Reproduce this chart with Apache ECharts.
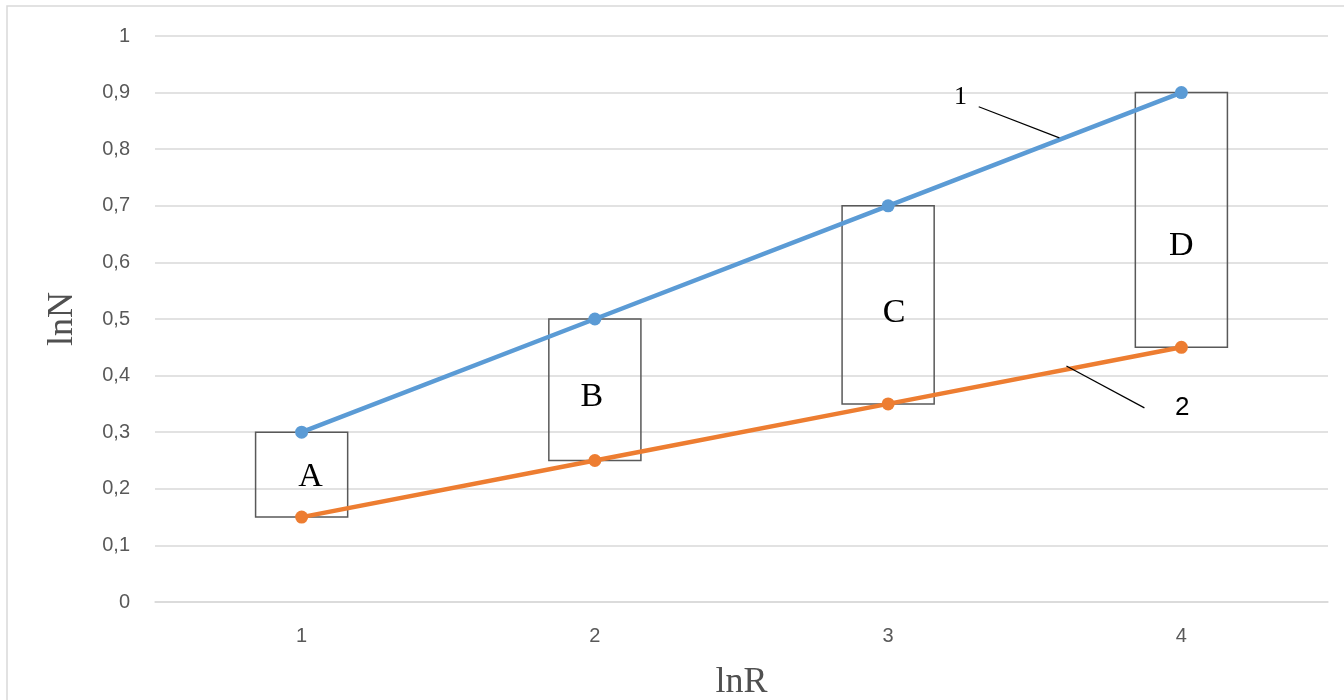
<!DOCTYPE html>
<html>
<head>
<meta charset="utf-8">
<script src="https://cdn.jsdelivr.net/npm/echarts@6/dist/echarts.min.js"></script>
<style>html,body{margin:0;padding:0;background:#fff;}#c{width:1344px;height:700px;}</style>
</head>
<body>
<div id="c"></div>
<script>
// ---- data ----
var categories = ['1', '2', '3', '4'];
var series1 = [0.3, 0.5, 0.7, 0.9];
var series2 = [0.15, 0.25, 0.35, 0.45];
var yTicks = [0, 0.1, 0.2, 0.3, 0.4, 0.5, 0.6, 0.7, 0.8, 0.9, 1];
var boxLetters = ['A', 'B', 'C', 'D'];
var boxLow = [0.15, 0.25, 0.35, 0.45];
var boxHigh = [0.3, 0.5, 0.7, 0.9];
var letterY = [0.221, 0.362, 0.511, 0.629];
var letterX = [1.03, 1.99, 3.02, 4.0];
// callouts: [labelX, labelY, lineX1, lineY1, lineX2, lineY2, text]
var callouts = [
  [3.247, 0.892, 3.309, 0.875, 3.584, 0.820, '1'],
  [4.003, 0.343, 3.608, 0.417, 3.874, 0.343, '2']
];

var boxData = categories.map(function (c, i) {
  return [i + 1, boxLow[i], boxHigh[i], letterX[i], letterY[i]];
});

var chart = echarts.init(document.getElementById('c'));
var sans = '"Liberation Sans Narrow","Liberation Sans",Arial,sans-serif';
var serif = '"Liberation Serif","DejaVu Serif",serif';

chart.setOption({
  animation: false,
  backgroundColor: '#ffffff',
  graphic: [{
    type: 'rect', shape: { x: 7, y: 6, width: 1345, height: 700 },
    style: { fill: 'none', stroke: '#d9d9d9', lineWidth: 1.5 }, silent: true
  }],
  grid: { left: 155, right: 16, top: 36, bottom: 98, containLabel: false, outerBoundsMode: 'none' },
  xAxis: [{
    type: 'category', data: categories, boundaryGap: true,
    name: 'lnR', nameLocation: 'middle', nameGap: 63,
    nameTextStyle: { fontFamily: serif, fontSize: 36, color: '#505050' },
    axisLine: { show: true, lineStyle: { color: '#d9d9d9', width: 1.5 } },
    axisTick: { show: false },
    axisLabel: { margin: 24, color: '#595959', fontSize: 20, fontFamily: sans },
    splitLine: { show: false }
  }, {
    type: 'value', min: 0.5, max: 4.5, show: false
  }],
  yAxis: {
    type: 'value', min: 0, max: 1, interval: 0.1,
    name: 'lnN', nameLocation: 'middle', nameGap: 74, nameRotate: 90,
    nameTextStyle: { fontFamily: serif, fontSize: 36, color: '#505050' },
    axisLine: { show: false }, axisTick: { show: false },
    axisLabel: {
      margin: 25, color: '#595959', fontSize: 20, fontFamily: sans,
      formatter: function (v) {
        var t = yTicks.reduce(function (a, b) { return Math.abs(b - v) < Math.abs(a - v) ? b : a; });
        return String(t).replace('.', ',');
      }
    },
    splitLine: { lineStyle: { color: '#d9d9d9', width: 1.5 } }
  },
  series: [{
    type: 'custom', xAxisIndex: 1, yAxisIndex: 0, z: 1,
    data: boxData,
    renderItem: function (params, api) {
      var x = api.value(0), lo = api.value(1), hi = api.value(2);
      var half = 0.157;
      var p1 = api.coord([x - half, hi]);
      var p2 = api.coord([x + half, lo]);
      var t = api.coord([api.value(3), api.value(4)]);
      return {
        type: 'group', children: [{
          type: 'rect',
          shape: { x: p1[0], y: p1[1], width: p2[0] - p1[0], height: p2[1] - p1[1] },
          style: { fill: 'none', stroke: '#595959', lineWidth: 1.5 }
        }, {
          type: 'text',
          style: {
            text: boxLetters[params.dataIndex], x: t[0], y: t[1],
            textAlign: 'center', textVerticalAlign: 'middle',
            font: '34px ' + serif, fill: '#000'
          }
        }]
      };
    }
  }, {
    type: 'line', name: '1', data: series1, z: 3,
    symbol: 'circle', symbolSize: 13,
    lineStyle: { color: '#5b9bd5', width: 4.5 },
    itemStyle: { color: '#5b9bd5' }
  }, {
    type: 'line', name: '2', data: series2, z: 3,
    symbol: 'circle', symbolSize: 13,
    lineStyle: { color: '#ed7d31', width: 4.5 },
    itemStyle: { color: '#ed7d31' }
  }, {
    type: 'custom', xAxisIndex: 1, yAxisIndex: 0, z: 4,
    data: callouts.map(function (c) { return c.slice(0, 6); }),
    renderItem: function (params, api) {
      var lp = api.coord([api.value(0), api.value(1)]);
      var a = api.coord([api.value(2), api.value(3)]);
      var b = api.coord([api.value(4), api.value(5)]);
      return {
        type: 'group', children: [{
          type: 'line', shape: { x1: a[0], y1: a[1], x2: b[0], y2: b[1] },
          style: { stroke: '#000', lineWidth: 1.2 }
        }, {
          type: 'text',
          style: {
            text: callouts[params.dataIndex][6], x: lp[0], y: lp[1],
            textAlign: 'center', textVerticalAlign: 'middle',
            font: (params.dataIndex === 0 ? '26px ' + serif : '26px ' + sans), fill: '#000'
          }
        }]
      };
    }
  }]
});
</script>
</body>
</html>
